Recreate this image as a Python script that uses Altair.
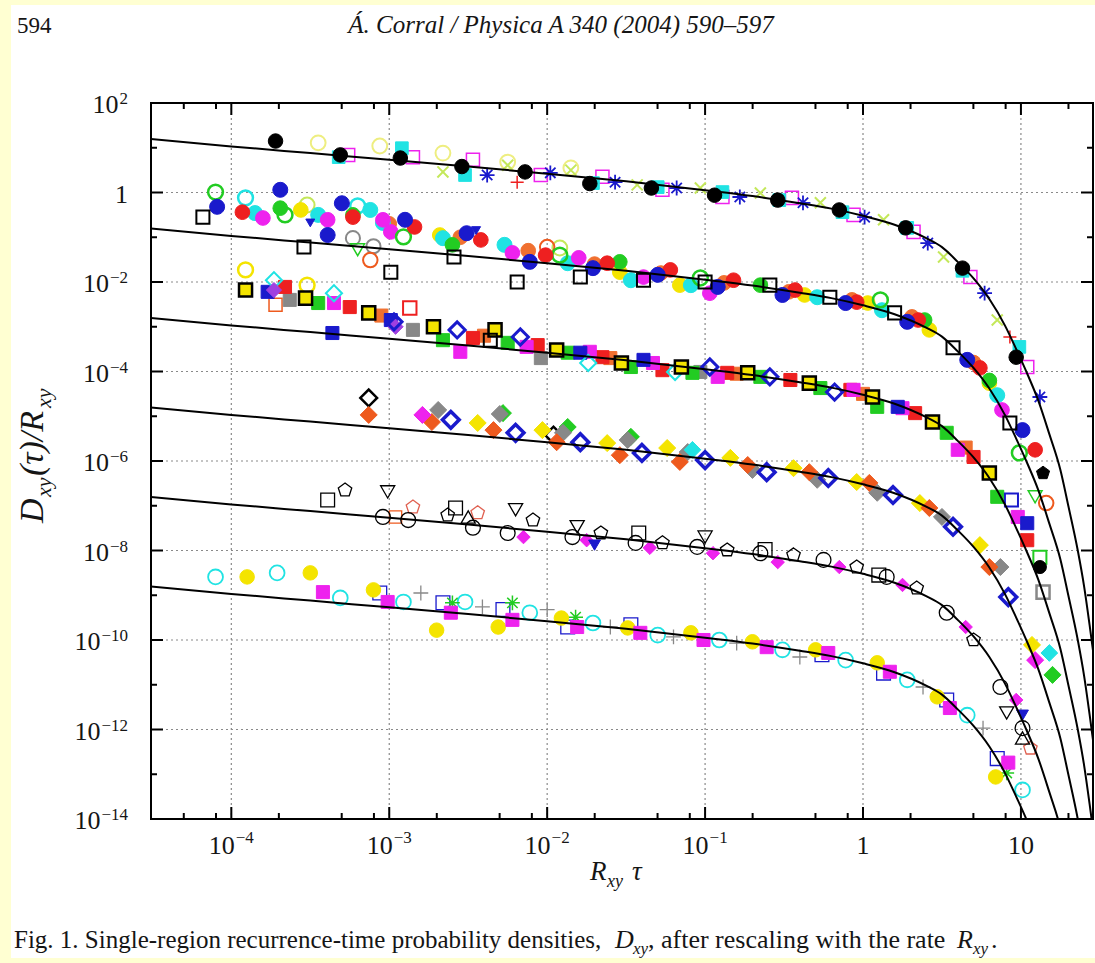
import altair as alt
import pandas as pd

# ------------------------------------------------------------------ axes
X_DOMAIN = [3.1e-5, 28.6]
Y_DOMAIN = [1e-14, 1e2]
X_MAJOR = [1e-4, 1e-3, 1e-2, 1e-1, 1, 10]
X_LABEL_BASE = ["10", "10", "10", "10", "1", "10"]
X_LABEL_EXP = ["−4", "−3", "−2", "−1", "", ""]
X_MINOR = [5e-5, 8e-5, 2e-4, 5e-4, 8e-4, 2e-3, 5e-3, 8e-3, 2e-2, 5e-2, 8e-2,
           0.2, 0.5, 0.8, 2, 5, 8, 20]
Y_LABELED = [1e-14, 1e-12, 1e-10, 1e-8, 1e-6, 1e-4, 1e-2, 1, 1e2]
Y_LABEL_BASE = ["10", "10", "10", "10", "10", "10", "10", "1", "10"]
Y_LABEL_EXP = ["−14", "−12", "−10", "−8", "−6", "−4", "−2", "", "2"]
Y_GRID = [1e-12, 1e-10, 1e-8, 1e-6, 1e-4, 1e-2, 1]
Y_MINOR = [1e-13, 1e-11, 1e-9, 1e-7, 1e-5, 1e-3, 1e-1, 10]

# ------------------------------------------------------------------ fitted curve (log10 units)
CURVE_LX = [-4.55, -4.0, -3.5, -3.0, -2.5, -2.0, -1.5, -1.0, -0.7, -0.4, -0.2, 0.0, 0.2,
            0.4, 0.5, 0.6, 0.7, 0.8, 0.9, 0.97, 1.04, 1.11, 1.18, 1.25, 1.30, 1.36, 1.40,
            1.44, 1.47]
CURVE_LY = [1.21, 1.03, 0.88, 0.73, 0.58, 0.42, 0.25, 0.05, -0.08, -0.24, -0.36, -0.52,
            -0.72, -1.02, -1.22, -1.55, -1.92, -2.38, -2.98, -3.5, -4.05, -4.65, -5.4,
            -6.2, -7.0, -8.0, -8.8, -9.8, -10.6]
CURVE_SHIFT = [0, -2, -4, -6, -8, -10]   # each data set shifted by a factor 100

# ------------------------------------------------------------------ data points (log10 x, log10 y)
A_black_lx = [-3.72, -3.31, -2.93, -2.54, -2.14, -1.73, -1.34, -0.94, -0.54, -0.15, 0.27, 0.63, 0.97]
A_black_ly = [1.15, 0.84, 0.77, 0.58, 0.46, 0.20, 0.10, -0.06, -0.17, -0.39, -0.79, -1.69, -3.68]
A_cyan_lx = [-3.32, -2.92, -2.52, -1.71, -1.30, -0.89, -0.53, -0.13, 0.28, 0.63, 0.99]
A_cyan_ly = [0.79, 0.99, 0.39, 0.21, 0.12, 0.01, -0.17, -0.44, -0.79, -1.75, -3.45]
A_mag_lx = [-3.26, -2.85, -2.47, -2.04, -1.65, -1.27, -0.89, -0.45, -0.06, 0.32, 0.68, 1.04]
A_mag_ly = [0.84, 0.79, 0.73, 0.39, 0.35, 0.06, -0.10, -0.12, -0.50, -0.88, -1.89, -3.90]
A_ast_lx = [-2.38, -1.98, -1.57, -1.18, -0.78, -0.38, 0.01, 0.41, 0.77, 1.12]
A_ast_ly = [0.39, 0.44, 0.23, 0.10, -0.10, -0.23, -0.55, -1.13, -2.25, -4.57]
A_xg_lx = [-2.66, -2.25, -1.85, -1.43, -1.03, -0.65, -0.27, 0.13, 0.51, 0.85]
A_xg_ly = [0.46, 0.61, 0.50, 0.17, 0.10, -0.01, -0.23, -0.61, -1.44, -2.85]
A_yo_lx = [-3.45, -3.06, -2.66, -2.25, -1.85]
A_yo_ly = [1.11, 1.04, 0.88, 0.68, 0.55]
A_plus_lx = [-2.19, 0.93]
A_plus_ly = [0.23, -3.23]

B_bsq_lx = [-4.18, -3.54, -2.99, -2.59, -2.19, -1.79, -1.39, -1.00, -0.59, -0.21, 0.20, 0.57, 0.93]
B_bsq_ly = [-0.55, -1.22, -1.78, -1.44, -2.00, -1.89, -1.96, -2.00, -2.07, -2.34, -2.69, -3.47, -5.15]
B_blue_lx = [-4.09, -3.69, -3.30, -3.39, -2.90, -2.51, -2.11, -1.71, -1.30, -0.92, -0.51, -0.11, 0.28, 0.66, 1.01]
B_blue_ly = [-0.32, 0.06, -0.24, -0.95, -0.61, -0.91, -1.55, -1.69, -1.84, -2.11, -2.29, -2.47, -2.89, -3.74, -5.31]
B_gro_lx = [-4.10, -3.66, -2.91, -1.92, -1.03, 0.11, 0.99]
B_gro_ly = [0.01, -0.50, -0.99, -1.40, -1.91, -2.40, -5.82]
B_grn_lx = [-3.69, -3.23, -2.60, -1.54, -0.65, 0.39, 0.80]
B_grn_ly = [-0.35, -0.50, -1.17, -1.55, -2.07, -2.85, -4.20]
B_red_lx = [-3.93, -3.23, -2.84, -2.42, -2.01, -1.62, -1.22, -0.82, -0.43, -0.04, 0.35, 0.74, 1.09]
B_red_ly = [-0.44, -0.55, -0.77, -1.06, -1.40, -1.58, -1.73, -1.96, -2.18, -2.45, -2.85, -3.92, -5.75]
B_org_lx = [-3.00, -2.55, -2.12, -1.70, -1.28, -0.88, -0.47, -0.07, 0.31, 0.70]
B_org_ly = [-0.70, -1.00, -1.30, -1.60, -1.80, -2.02, -2.22, -2.40, -2.78, -3.80]
B_cyan_lx = [-3.85, -3.45, -3.12, -3.04, -2.66, -2.27, -1.87, -1.47, -1.09, -0.29, 0.12, 0.85]
B_cyan_ly = [-0.46, -0.50, -0.39, -0.68, -1.02, -1.17, -1.58, -1.96, -2.07, -2.34, -2.63, -4.53]
B_cyo_lx = [-3.91, -3.20]
B_cyo_ly = [-0.12, -0.30]
B_mag_lx = [-3.80, -3.39, -3.04, -2.99, -2.22, -1.80, -1.39, -0.97, 0.88]
B_mag_ly = [-0.57, -0.61, -0.61, -0.88, -1.35, -1.46, -1.89, -2.25, -4.86]
B_yel_lx = [-3.56, -2.68, -1.54, -1.16, -0.37, 0.03, 0.42, 0.80]
B_yel_ly = [-0.39, -0.95, -1.78, -2.07, -2.29, -2.47, -3.07, -4.26]
B_oro_lx = [-3.12, -2.00, 1.16]
B_oro_ly = [-1.51, -1.22, -6.94]
B_gry_lx = [-3.23, -3.10]
B_gry_ly = [-1.02, -1.20]
B_ygo_lx = [-3.52, -1.92]
B_ygo_ly = [-0.28, -1.24]
B_bpent_lx = [1.14]
B_bpent_ly = [-6.27]
B_gtri_lx = [-3.20, 1.09]
B_gtri_ly = [-1.28, -6.80]
B_btri_lx = [-3.50, -2.45]
B_btri_ly = [-0.68, -0.85]

C_by_lx = [-3.91, -3.53, -3.13, -2.72, -2.33, -1.94, -1.53, -1.15, -0.73, -0.34, 0.06, 0.44, 0.80]
C_by_ly = [-2.18, -2.36, -2.69, -3.00, -3.07, -3.52, -3.81, -3.90, -4.03, -4.26, -4.57, -5.13, -6.27]
C_grn_lx = [-3.45, -2.66, -2.25, -1.87, -1.47, -1.08, -0.65, -0.27, 0.09, 0.53, 0.85]
C_grn_ly = [-2.47, -3.30, -3.36, -3.58, -3.90, -4.03, -4.12, -4.37, -4.79, -5.37, -6.80]
C_red_lx = [-3.66, -3.25, -2.47, -2.06, -1.65, -1.27, -0.86, -0.46, -0.08, 0.33, 0.70, 1.04]
C_red_ly = [-2.11, -2.56, -3.25, -3.41, -3.68, -3.97, -4.03, -4.19, -4.41, -4.93, -5.91, -7.77]
C_org_lx = [-3.05, -2.40, -1.60, -0.80, 0.00, 0.65]
C_org_ly = [-2.75, -3.20, -3.70, -4.05, -4.50, -5.70]
C_redo_lx = [-2.87]
C_redo_ly = [-2.58]
C_mag_lx = [-3.35, -2.55, -2.13, -1.73, -1.33, -0.92, -0.06, 0.25, 0.60, 0.98]
C_mag_ly = [-2.47, -3.56, -3.45, -3.56, -3.81, -4.12, -4.41, -4.82, -5.75, -7.25]
C_blue_lx = [-3.77, -3.36, -2.99, -1.79, -1.39, 0.22, 1.04]
C_blue_ly = [-2.22, -3.14, -2.85, -3.58, -3.74, -4.79, -7.39]
C_bdia_lx = [-2.97, -2.57, -2.17, -0.97, -0.59, -0.18]
C_bdia_ly = [-2.89, -3.07, -3.23, -3.90, -4.12, -4.46]
C_pdia_lx = [-3.73, -2.96]
C_pdia_ly = [-2.18, -3.00]
C_cdia_lx = [-3.73, -3.35, -1.74, -1.19]
C_cdia_ly = [-1.96, -2.25, -3.81, -4.01]
C_gry_lx = [-3.63, -2.85, -2.04, -1.03]
C_gry_ly = [-2.40, -3.07, -3.70, -4.01]
C_gryo_lx = [1.14]
C_gryo_ly = [-8.93]
C_oro_lx = [-3.72]
C_oro_ly = [-2.51]
C_yo_lx = [-3.91, -3.52]
C_yo_ly = [-1.73, -2.07]
C_blk_lx = [1.12]
C_blk_ly = [-8.37]
C_go_lx = [1.12]
C_go_ly = [-8.15]
C_bo_lx = [0.94]
C_bo_ly = [-6.87]
C_bsq_lx = [-2.36]
C_bsq_ly = [-3.30]

D_mag_lx = [-2.79, 1.09]
D_mag_ly = [-4.97, -10.45]
D_org_lx = [-3.13, -2.73, -2.34, -1.94, -1.54, -1.16, -0.73, -0.34, 0.04, 0.42, 0.80]
D_org_ly = [-4.97, -5.13, -5.31, -5.58, -5.87, -6.02, -6.09, -6.25, -6.49, -7.05, -8.37]
D_gry_lx = [-2.69, -2.30, -1.90, -1.49, -1.11, -0.70, -0.29, 0.09, 0.50, 0.87]
D_gry_ly = [-4.86, -4.95, -5.37, -5.53, -5.80, -6.20, -6.42, -6.71, -7.25, -8.37]
D_blue_lx = [-2.61, -2.20, -1.79, -1.40, -1.00, -0.61, -0.22, 0.19, 0.57, 0.92]
D_blue_ly = [-5.08, -5.37, -5.58, -5.82, -5.98, -6.25, -6.38, -6.76, -7.47, -9.04]
D_yel_lx = [-2.44, -2.03, -1.62, -1.24, -0.84, -0.44, -0.04, 0.36, 0.74, 1.07]
D_yel_ly = [-5.15, -5.31, -5.60, -5.71, -5.93, -6.16, -6.47, -6.94, -7.88, -10.11]
D_grn_lx = [-2.28, -1.87, -1.47, 1.20]
D_grn_ly = [-4.93, -5.24, -5.46, -10.78]
D_cyn_lx = [-1.08, 1.18]
D_cyn_ly = [-5.75, -10.29]
D_bko_lx = [-3.13, -1.96]
D_bko_ly = [-4.59, -5.42]

E_cir_lx = [-3.04, -2.88, -2.47, -2.25, -1.84, -1.44, -1.05, -0.65, -0.25, 0.15, 0.53, 0.87, 1.01]
E_cir_ly = [-7.25, -7.32, -7.49, -7.61, -7.70, -7.83, -7.92, -8.06, -8.21, -8.59, -9.39, -11.05, -11.97]
E_sq_lx = [-3.39, -2.58, -1.42, -0.62, 0.10]
E_sq_ly = [-6.87, -7.05, -7.61, -7.98, -8.55]
E_td_lx = [-3.01, -2.20, -1.81, -1.00, 0.91]
E_td_ly = [-6.69, -7.09, -7.47, -7.70, -11.63]
E_pent_lx = [-3.28, -2.63, -2.09, -1.66, -1.27, -0.86, -0.44, -0.04, 0.34, 0.70]
E_pent_ly = [-6.65, -7.21, -7.32, -7.61, -7.83, -7.99, -8.10, -8.37, -8.84, -10.0]
E_rpent_lx = [-2.85, -2.44, 1.06]
E_rpent_ly = [-7.03, -7.16, -12.42]
E_tu_lx = [-2.50, 1.01]
E_tu_ly = [-7.25, -12.19]
E_mag_lx = [-2.15, -1.75, -1.35, -0.95, -0.54, -0.15, 0.25, 0.65, 0.97]
E_mag_ly = [-7.70, -7.77, -7.94, -8.06, -8.26, -8.37, -8.77, -9.71, -11.34]
E_blue_lx = [-1.70, 1.01]
E_blue_ly = [-7.88, -11.68]
E_oro_lx = [-2.96]
E_oro_ly = [-7.25]

F_cyo_lx = [-4.10, -3.71, -3.31, -2.91, -2.52, -2.11, -1.71, -1.30, -0.91, -0.51, -0.11, 0.28, 0.66, 1.01]
F_cyo_ly = [-8.59, -8.50, -9.06, -9.15, -9.15, -9.39, -9.62, -9.89, -10.00, -10.22, -10.45, -10.89, -11.68, -13.35]
F_yel_lx = [-3.90, -3.50, -3.10, -2.70, -2.31, -1.91, -1.49, -1.09, -0.70, -0.30, 0.09, 0.47, 0.84]
F_yel_ly = [-8.59, -8.50, -8.88, -9.78, -9.71, -9.51, -9.73, -9.84, -10.04, -10.22, -10.51, -11.27, -13.06]
F_mag_lx = [-3.42, -3.01, -2.61, -2.22, -1.81, -1.41, -1.01, -0.61, -0.22, 0.17, 0.55, 0.92]
F_mag_ly = [-8.93, -9.15, -9.39, -9.55, -9.71, -9.84, -10.00, -10.16, -10.29, -10.71, -11.52, -12.74]
F_bsq_lx = [-3.06, -2.66, -2.28, -1.87, -1.47, -0.26, 0.13, 0.53, 0.85]
F_bsq_ly = [-8.95, -9.17, -9.32, -9.71, -9.66, -10.33, -10.74, -11.34, -12.65]
F_plus_lx = [-2.80, -2.41, -2.00, -1.60, -1.20, -0.80, -0.40, 0.38, 0.76]
F_plus_ly = [-8.95, -9.26, -9.32, -9.71, -9.93, -10.07, -10.38, -11.05, -11.97]
F_gst_lx = [-2.60, -2.22, -1.82, 0.91]
F_gst_ly = [-9.17, -9.17, -9.49, -12.97]

# ------------------------------------------------------------------ marker styles
BLACK, CYAN, MAG, BLUE = "#000000", "#20e3e3", "#ee22ee", "#1a1acc"
YG, PALEY, RED, GREEN = "#c4e85a", "#eeee80", "#ee2020", "#22cc22"
YEL, ORANGE, GRAY, PURPLE = "#f4e400", "#ee5a1e", "#888888", "#a040e0"
ORG2 = "#f07030"
PENT = "M0,-1L0.951,-0.309L0.588,0.809L-0.588,0.809L-0.951,-0.309Z"
AST = "M-1,0L1,0M0,-1L0,1M-0.7,-0.7L0.7,0.7M-0.7,0.7L0.7,-0.7"
PLUS = "M-1,0L1,0M0,-1L0,1"
XMK = "M-0.8,-0.8L0.8,0.8M-0.8,0.8L0.8,-0.8"
T = "transparent"

# (lx, ly, shape, stroke, fill, size, strokeWidth)
SERIES = [
    (A_yo_lx, A_yo_ly, "circle", PALEY, T, 220, 2),
    (A_xg_lx, A_xg_ly, XMK, YG, T, 190, 2),
    (A_mag_lx, A_mag_ly, "square", MAG, T, 170, 1.5),
    (A_cyan_lx, A_cyan_ly, "square", CYAN, CYAN, 160, 1),
    (A_plus_lx, A_plus_ly, PLUS, RED, T, 170, 1.5),
    (A_ast_lx, A_ast_ly, AST, BLUE, T, 220, 1.8),
    (A_black_lx, A_black_ly, "circle", BLACK, BLACK, 210, 1),

    (B_gry_lx, B_gry_ly, "circle", GRAY, T, 200, 2),
    (B_ygo_lx, B_ygo_ly, "circle", YG, T, 220, 2),
    (B_oro_lx, B_oro_ly, "circle", ORANGE, T, 210, 2),
    (B_gtri_lx, B_gtri_ly, "triangle-down", GREEN, T, 190, 1.5),
    (B_yel_lx, B_yel_ly, "circle", YEL, YEL, 215, 1),
    (B_org_lx, B_org_ly, "circle", ORG2, ORG2, 215, 1),
    (B_cyo_lx, B_cyo_ly, "circle", CYAN, T, 220, 2.5),
    (B_cyan_lx, B_cyan_ly, "circle", CYAN, CYAN, 225, 1),
    (B_mag_lx, B_mag_ly, "circle", MAG, MAG, 215, 1),
    (B_grn_lx, B_grn_ly, "circle", GREEN, GREEN, 215, 1),
    (B_gro_lx, B_gro_ly, "circle", GREEN, T, 220, 2.5),
    (B_red_lx, B_red_ly, "circle", RED, RED, 215, 1),
    (B_blue_lx, B_blue_ly, "circle", BLUE, BLUE, 225, 1),
    (B_btri_lx, B_btri_ly, "triangle-down", BLUE, BLUE, 80, 1),
    (B_bsq_lx, B_bsq_ly, "square", BLACK, T, 170, 2),
    (B_bpent_lx, B_bpent_ly, PENT, BLACK, BLACK, 190, 1),

    (C_yo_lx, C_yo_ly, "circle", YEL, T, 220, 2.5),
    (C_oro_lx, C_oro_ly, "square", ORANGE, T, 170, 1.5),
    (C_gry_lx, C_gry_ly, "square", GRAY, GRAY, 170, 1),
    (C_redo_lx, C_redo_ly, "square", RED, T, 180, 2),
    (C_org_lx, C_org_ly, "square", ORG2, ORG2, 170, 1),
    (C_red_lx, C_red_ly, "square", RED, RED, 170, 1),
    (C_grn_lx, C_grn_ly, "square", GREEN, GREEN, 170, 1),
    (C_mag_lx, C_mag_ly, "square", MAG, MAG, 170, 1),
    (C_blue_lx, C_blue_ly, "square", BLUE, BLUE, 170, 1),
    (C_cdia_lx, C_cdia_ly, "diamond", CYAN, T, 260, 2),
    (C_pdia_lx, C_pdia_ly, "diamond", PURPLE, PURPLE, 230, 1),
    (C_bdia_lx, C_bdia_ly, "diamond", BLUE, T, 260, 3),
    (C_by_lx, C_by_ly, "square", BLACK, YEL, 170, 2.5),
    (C_bsq_lx, C_bsq_ly, "square", BLACK, T, 170, 2),
    (C_bo_lx, C_bo_ly, "square", BLUE, T, 170, 2),
    (C_go_lx, C_go_ly, "square", GREEN, T, 170, 2),
    (C_blk_lx, C_blk_ly, "circle", BLACK, BLACK, 170, 1),
    (C_gryo_lx, C_gryo_ly, "square", GRAY, T, 170, 2.5),

    (D_bko_lx, D_bko_ly, "diamond", BLACK, T, 280, 2.5),
    (D_yel_lx, D_yel_ly, "diamond", YEL, YEL, 290, 1),
    (D_grn_lx, D_grn_ly, "diamond", GREEN, GREEN, 290, 1),
    (D_gry_lx, D_gry_ly, "diamond", GRAY, GRAY, 290, 1),
    (D_org_lx, D_org_ly, "diamond", ORANGE, ORANGE, 290, 1),
    (D_mag_lx, D_mag_ly, "diamond", MAG, MAG, 290, 1),
    (D_cyn_lx, D_cyn_ly, "diamond", CYAN, CYAN, 280, 1),
    (D_blue_lx, D_blue_ly, "diamond", BLUE, T, 280, 3.5),

    (E_oro_lx, E_oro_ly, "square", ORANGE, T, 150, 1.3),
    (E_rpent_lx, E_rpent_ly, PENT, "#e06050", T, 200, 1.3),
    (E_sq_lx, E_sq_ly, "square", BLACK, T, 190, 1.3),
    (E_td_lx, E_td_ly, "triangle-down", BLACK, T, 200, 1.3),
    (E_tu_lx, E_tu_ly, "triangle-up", BLACK, T, 200, 1.3),
    (E_pent_lx, E_pent_ly, PENT, BLACK, T, 200, 1.3),
    (E_cir_lx, E_cir_ly, "circle", BLACK, T, 220, 1.3),
    (E_mag_lx, E_mag_ly, "diamond", MAG, MAG, 180, 1),
    (E_blue_lx, E_blue_ly, "triangle-down", BLUE, BLUE, 140, 1),

    (F_plus_lx, F_plus_ly, PLUS, GRAY, T, 220, 1.3),
    (F_bsq_lx, F_bsq_ly, "square", BLUE, T, 190, 1.3),
    (F_cyo_lx, F_cyo_ly, "circle", CYAN, T, 220, 1.8),
    (F_gst_lx, F_gst_ly, AST, GREEN, T, 220, 1.5),
    (F_yel_lx, F_yel_ly, "circle", YEL, YEL, 210, 1),
    (F_mag_lx, F_mag_ly, "square", MAG, MAG, 170, 1),
]

rows = []
for lxs, lys, shp, stroke, fill, size, sw in SERIES:
    for lx, ly in zip(lxs, lys):
        rows.append({"x": 10 ** lx, "y": 10 ** ly, "shape": shp, "stroke": stroke,
                     "fill": fill, "size": size, "sw": sw, "idx": len(rows)})
df_pts = pd.DataFrame(rows)

crow = []
for k, sh in enumerate(CURVE_SHIFT):
    for lx, ly in zip(CURVE_LX, CURVE_LY):
        crow.append({"curve": k, "x": 10 ** lx, "y": 10 ** (ly + sh)})
df_curve = pd.DataFrame(crow)

# ------------------------------------------------------------------ layout
W, H = 942, 716
FONT = "Liberation Serif"
INK = "#151515"
xs = alt.Scale(type="log", domain=X_DOMAIN, nice=False)
ys = alt.Scale(type="log", domain=Y_DOMAIN, nice=False)


def X():
    return alt.X("x:Q", scale=xs, axis=None)


def Y():
    return alt.Y("y:Q", scale=ys, axis=None)


one = pd.DataFrame({"d": [0]})

# page border strips (yellow)
PAGE = "#FFFFD2"
strips = [
    alt.Chart(one).mark_rect(color=PAGE).encode(
        x=alt.value(-151), x2=alt.value(-140), y=alt.value(-103), y2=alt.value(860)),
    alt.Chart(one).mark_rect(color=PAGE).encode(
        x=alt.value(-151), x2=alt.value(944), y=alt.value(-103), y2=alt.value(-98)),
    alt.Chart(one).mark_rect(color=PAGE).encode(
        x=alt.value(-151), x2=alt.value(944), y=alt.value(855), y2=alt.value(860)),
]

grid_x = alt.Chart(pd.DataFrame({"x": X_MAJOR})).mark_rule(
    color="#8a8a8a", strokeDash=[2, 3], strokeWidth=1.2).encode(
    x=X(), y=alt.value(0), y2=alt.value(H))
grid_y = alt.Chart(pd.DataFrame({"y": Y_GRID})).mark_rule(
    color="#8a8a8a", strokeDash=[2, 3], strokeWidth=1.2).encode(
    y=Y(), x=alt.value(0), x2=alt.value(W))

tick_layers = []
for vals, ln in ((X_MAJOR, 12), (X_MINOR, 6)):
    d = pd.DataFrame({"x": vals})
    tick_layers.append(alt.Chart(d).mark_rule(color="black", strokeWidth=2).encode(
        x=X(), y=alt.value(H), y2=alt.value(H - ln)))
    tick_layers.append(alt.Chart(d).mark_rule(color="black", strokeWidth=2).encode(
        x=X(), y=alt.value(0), y2=alt.value(ln)))
for vals, ln in ((Y_GRID, 12), (Y_MINOR, 6)):
    d = pd.DataFrame({"y": vals})
    tick_layers.append(alt.Chart(d).mark_rule(color="black", strokeWidth=2).encode(
        y=Y(), x=alt.value(0), x2=alt.value(ln)))
    tick_layers.append(alt.Chart(d).mark_rule(color="black", strokeWidth=2).encode(
        y=Y(), x=alt.value(W), x2=alt.value(W - ln)))

points = alt.Chart(df_pts).mark_point(opacity=1, filled=True).encode(
    x=X(), y=Y(),
    shape=alt.Shape("shape:N", scale=None),
    stroke=alt.Stroke("stroke:N", scale=None),
    fill=alt.Fill("fill:N", scale=None),
    size=alt.Size("size:Q", scale=None),
    strokeWidth=alt.StrokeWidth("sw:Q", scale=None),
    order=alt.Order("idx:Q"),
)

curves = alt.Chart(df_curve).mark_line(color="black", strokeWidth=2, clip=True,
                                       interpolate="monotone").encode(
    x=X(), y=Y(), detail="curve:N")

# ------------------------------------------------------------------ tick labels (10 + superscript)
BASE_FS, EXP_FS = 26, 17
CHAR_W = {"−": 0.564}


def tw(s, fs):
    return sum(CHAR_W.get(c, 0.5) for c in s) * fs


label_layers = []
for v, b, e in zip(X_MAJOR, X_LABEL_BASE, X_LABEL_EXP):
    d = pd.DataFrame({"x": [v]})
    wb, we = tw(b, BASE_FS), tw(e, EXP_FS)
    left = -(wb + we + (1 if e else 0)) / 2
    label_layers.append(alt.Chart(d).mark_text(
        text=b, font=FONT, fontSize=BASE_FS, align="left", baseline="alphabetic",
        dx=left, color=INK).encode(x=X(), y=alt.value(751)))
    if e:
        label_layers.append(alt.Chart(d).mark_text(
            text=e, font=FONT, fontSize=EXP_FS, align="left", baseline="alphabetic",
            dx=left + wb + 1, color=INK).encode(x=X(), y=alt.value(740)))

for v, b, e in zip(Y_LABELED, Y_LABEL_BASE, Y_LABEL_EXP):
    d = pd.DataFrame({"y": [v]})
    we = tw(e, EXP_FS)
    right = -23
    label_layers.append(alt.Chart(d).mark_text(
        text=b, font=FONT, fontSize=BASE_FS, align="right", baseline="alphabetic",
        dy=10, color=INK).encode(y=Y(), x=alt.value(right - we - (1 if e else 0))))
    if e:
        label_layers.append(alt.Chart(d).mark_text(
            text=e, font=FONT, fontSize=EXP_FS, align="right", baseline="alphabetic",
            dy=1, color=INK).encode(y=Y(), x=alt.value(right)))


def txt(s, x, y, size=25, style="normal", angle=0, align="left", baseline="alphabetic"):
    return alt.Chart(one).mark_text(text=s, font=FONT, fontSize=size, fontStyle=style,
                                    angle=angle, align=align, baseline=baseline,
                                    color=INK).encode(x=alt.value(x), y=alt.value(y))


texts = [
    txt("594", -134, -70, size=23),
    txt("Á. Corral / Physica A 340 (2004) 590–597", 410, -70, size=25, style="italic",
        align="center"),
    # x title  R_xy tau
    txt("R", 439, 777, size=27, style="italic"),
    txt("xy", 456, 784, size=18, style="italic"),
    txt("τ", 481, 777, size=27, style="italic"),
    # y title D_xy(tau)/R_xy (rotated)
    txt("D", -108, 420, size=34, style="italic", angle=270),
    txt("xy", -100, 394, size=22, style="italic", angle=270),
    txt("(τ)/R", -108, 373, size=34, style="italic", angle=270),
    txt("xy", -100, 305, size=22, style="italic", angle=270),
    # caption
    txt("Fig. 1. Single-region recurrence-time probability densities,", -137, 845, size=25),
    txt("D", 464, 845, size=26, style="italic"),
    txt("xy", 482, 851, size=17, style="italic"),
    txt(", after rescaling with the rate", 497, 845, size=26),
    txt("R", 806, 845, size=26, style="italic"),
    txt("xy", 822, 851, size=17, style="italic"),
    txt(".", 840, 845, size=26),
]

chart = alt.layer(*strips, grid_x, grid_y, points, curves, *tick_layers, *label_layers,
                  *texts).properties(
    width=W, height=H, background="white",
    padding={"left": 151, "top": 103, "right": 2, "bottom": 144},
    autosize=alt.AutoSizeParams(type="none"),
).configure_view(stroke="black", strokeWidth=2)

chart.save("out.html", embed_options={"renderer": "svg", "actions": False})
